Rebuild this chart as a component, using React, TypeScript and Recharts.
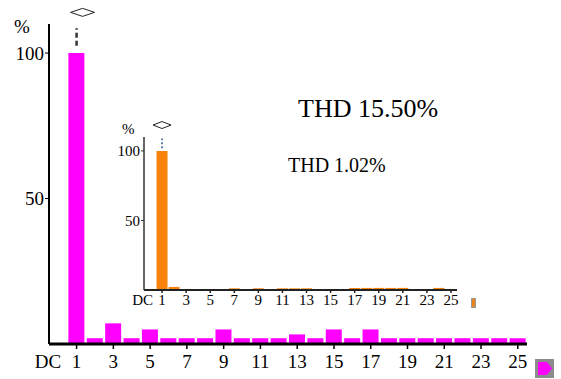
import React from "react";
import {
  BarChart,
  Bar,
  XAxis,
  YAxis,
  ReferenceLine,
  ReferenceDot,
} from "recharts";

// harmonic order labels, DC first
const harmonics = [
  "DC", "1", "2", "3", "4", "5", "6", "7", "8", "9", "10", "11", "12",
  "13", "14", "15", "16", "17", "18", "19", "20", "21", "22", "23", "24", "25",
];

// amplitude in % of fundamental
const currentValues = [
  0, 100, 2, 7.1, 2, 5, 2, 2, 2, 5, 2, 2, 2,
  3.3, 2, 5, 2, 5, 2, 2, 2, 2, 2, 2, 2, 2,
];
const voltageValues = [
  0, 100, 2.2, 0, 0, 0, 0, 1.2, 0, 1.2, 0, 1.2, 1.2,
  1.2, 0, 0, 0, 1.5, 1.5, 1.5, 1.5, 1.5, 0, 0, 1.5, 0,
];

const yTicks = [50, 100];
const currentThd = "THD 15.50%";
const voltageThd = "THD 1.02%";

const FONT = "'Liberation Serif', 'Times New Roman', serif";
const serif = { fontFamily: FONT };

const mainData = harmonics.map((h, i) => ({ h, v: currentValues[i] }));
const insetData = harmonics.map((h, i) => ({ h, v: voltageValues[i] }));

// only DC and odd orders get a label; odd orders also get a tick mark
const makeTick =
  (fontSize: number, tickLen: number, baseline: number, color: string) =>
  (props: any) => {
    const { x, y, payload } = props;
    const label = String(payload.value);
    if (label === "DC") {
      return (
        <text x={x + 3} y={y + baseline} textAnchor="end" fontSize={fontSize} style={serif} fill="#000">
          DC
        </text>
      );
    }
    if (Number(label) % 2 === 0) return <g />;
    return (
      <g>
        <line x1={x} x2={x} y1={y} y2={y + tickLen} stroke={color} strokeWidth={1.5} />
        <text x={x} y={y + baseline} textAnchor="middle" fontSize={fontSize} style={serif} fill="#000">
          {label}
        </text>
      </g>
    );
  };

// y tick labels, right aligned against the tick mark
const makeYTick = (fontSize: number, gap: number) => (props: any) => {
  const { x, y, payload } = props;
  return (
    <text x={x - gap} y={y} dy="0.35em" textAnchor="end" fontSize={fontSize} style={serif} fill="#000">
      {payload.value}
    </text>
  );
};

const diamond = (w: number, h: number, dx: number) => (props: any) => {
  const { cx, cy } = props;
  const x = cx + dx;
  return (
    <polygon
      points={`${x - w / 2},${cy} ${x},${cy - h / 2} ${x + w / 2},${cy} ${x},${cy + h / 2}`}
      fill="#fff"
      stroke="#222"
      strokeWidth={1}
    />
  );
};

function MainChart() {
  return (
    <BarChart
      width={561}
      height={379}
      data={mainData}
      margin={{ top: 24, right: 34, left: 0, bottom: 0 }}
      barCategoryGap={1}
    >
      <XAxis
        dataKey="h"
        interval={0}
        height={35}
        tickSize={0}
        tickMargin={0}
        tickLine={false}
        axisLine={{ stroke: "#000", strokeWidth: 3 }}
        tick={makeTick(19, 5, 24, "#000")}
      />
      <XAxis xAxisId="top" dataKey="h" orientation="top" height={0} tick={false} tickLine={false} axisLine={{ stroke: "#000", strokeWidth: 2 }} />
      <YAxis
        domain={[0, 110]}
        ticks={yTicks}
        width={49}
        tickSize={4}
        tickMargin={0}
        tickLine={{ stroke: "#000" }}
        axisLine={{ stroke: "#000", strokeWidth: 2 }}
        tick={makeYTick(19, 1)}
      />
      <YAxis yAxisId="right" orientation="right" domain={[0, 110]} width={0} tick={false} tickLine={false} axisLine={{ stroke: "#000", strokeWidth: 2 }} />
      <Bar dataKey="v" fill="#ff00ff" isAnimationActive={false} />
      <ReferenceLine
        segment={[{ x: "1", y: 102.5 }, { x: "1", y: 108.5 }]}
        stroke="#333"
        strokeWidth={2.5}
        strokeDasharray="5 3"
        ifOverflow="visible"
      />
      <ReferenceDot x="1" y={114} r={1} ifOverflow="visible" shape={diamond(24, 8, 6)} />
    </BarChart>
  );
}

function InsetChart() {
  return (
    <BarChart
      width={380}
      height={205}
      data={insetData}
      margin={{ top: 27, right: 23, left: 0, bottom: 0 }}
      barCategoryGap={0.5}
    >
      <XAxis
        dataKey="h"
        interval={0}
        height={25}
        tickSize={0}
        tickMargin={0}
        tickLine={false}
        axisLine={{ stroke: "#222", strokeWidth: 2 }}
        tick={makeTick(15, 3, 15, "#222")}
      />
      <XAxis xAxisId="top" dataKey="h" orientation="top" height={0} tick={false} tickLine={false} axisLine={{ stroke: "#333", strokeWidth: 1.5 }} />
      <YAxis
        domain={[0, 110]}
        ticks={yTicks}
        width={44}
        tickSize={3}
        tickMargin={0}
        tickLine={{ stroke: "#333" }}
        axisLine={{ stroke: "#333", strokeWidth: 1.5 }}
        tick={makeYTick(15, 1)}
      />
      <YAxis yAxisId="right" orientation="right" domain={[0, 110]} width={0} tick={false} tickLine={false} axisLine={{ stroke: "#333", strokeWidth: 1.5 }} />
      <Bar dataKey="v" fill="#f7820c" isAnimationActive={false} />
      <ReferenceLine
        segment={[{ x: "1", y: 102 }, { x: "1", y: 109 }]}
        stroke="#5b7fa6"
        strokeWidth={2}
        strokeDasharray="2 2"
        ifOverflow="visible"
      />
      <ReferenceDot x="1" y={118.6} r={1} ifOverflow="visible" shape={diamond(18, 7, 0)} />
    </BarChart>
  );
}

export default function App() {
  return (
    <div style={{ position: "absolute", left: 0, top: 0, width: 561, height: 379, background: "#fff", fontFamily: FONT }}>
      <MainChart />
      <div style={{ position: "absolute", left: 100, top: 110 }}>
        <InsetChart />
      </div>
      <svg width={561} height={379} style={{ position: "absolute", left: 0, top: 0, pointerEvents: "none" }}>
        <g style={serif} fill="#000">
          <text x={14} y={33} fontSize={19}>%</text>
          <text x={298} y={117} fontSize={26}>{currentThd}</text>
          <text x={122} y={134} fontSize={15}>%</text>
          <text x={288} y={172} fontSize={20}>{voltageThd}</text>
        </g>
        {/* legend chips */}
        <rect x={535} y={359} width={19} height={19} fill="#8c8c8c" />
        <polygon points="538,362 547,362 552,368.5 547,375 538,375" fill="#ff00ff" />
        <rect x={471} y={298} width={5} height={10} fill="#9a9a9a" />
        <rect x={472} y={299} width={3} height={8} fill="#e8881c" />
      </svg>
    </div>
  );
}
